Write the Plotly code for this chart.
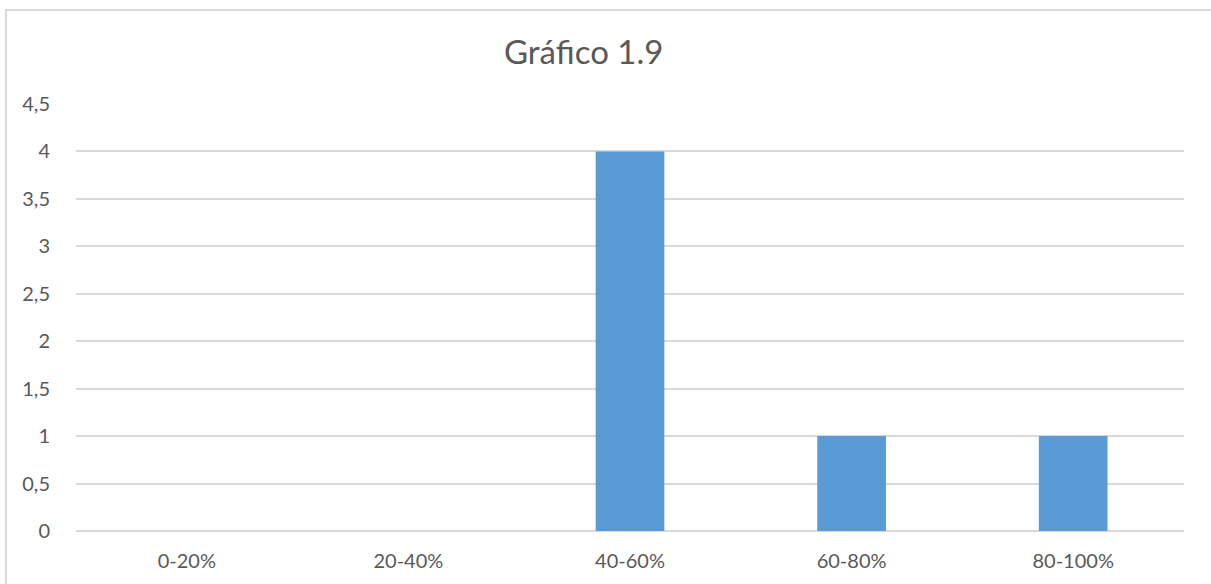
import plotly.graph_objects as go

categories = ["0-20%", "20-40%", "40-60%", "60-80%", "80-100%"]
values = [0, 0, 4, 1, 1]
tick_vals = [0, 0.5, 1, 1.5, 2, 2.5, 3, 3.5, 4, 4.5]
tick_text = ["0", "0,5", "1", "1,5", "2", "2,5", "3", "3,5", "4", "4,5"]
title_text = "Gráfico 1.9"

fig = go.Figure()
fig.add_trace(go.Bar(x=categories, y=values, marker=dict(color="#5b9bd5", line=dict(width=0)),
                     hoverinfo="x+y"))

fig.update_layout(
    width=1211, height=584,
    margin=dict(l=76, r=27, t=104, b=53),
    paper_bgcolor="white", plot_bgcolor="white",
    bargap=0.69,
    showlegend=False,
    font=dict(family="Lato, Open Sans, sans-serif", color="#595959", size=20),
    title=dict(text=title_text, x=0.482, xanchor="center", y=0.91, yanchor="middle",
               font=dict(size=33, color="#595959", family="Lato, Open Sans, sans-serif")),
    shapes=[dict(type="rect", xref="paper", yref="paper",
                 x0=-0.0632, x1=1.1, y0=-0.3, y1=1.2201,
                 line=dict(color="#d9d9d9", width=2), fillcolor="rgba(0,0,0,0)", layer="below")],
)
fig.update_xaxes(showgrid=False, showline=False, zeroline=False, ticks="outside", ticklen=12,
                 tickcolor="rgba(0,0,0,0)", tickfont=dict(size=20, color="#595959"))
fig.update_yaxes(range=[0, 4.5], tickvals=tick_vals, ticktext=tick_text, showgrid=True,
                 gridcolor="#d9d9d9", gridwidth=1.5, zeroline=True, zerolinecolor="#d9d9d9",
                 zerolinewidth=1.5, showline=False, ticks="outside", ticklen=21,
                 tickcolor="rgba(0,0,0,0)", tickfont=dict(size=20, color="#595959"))

fig.write_html("out.html")
